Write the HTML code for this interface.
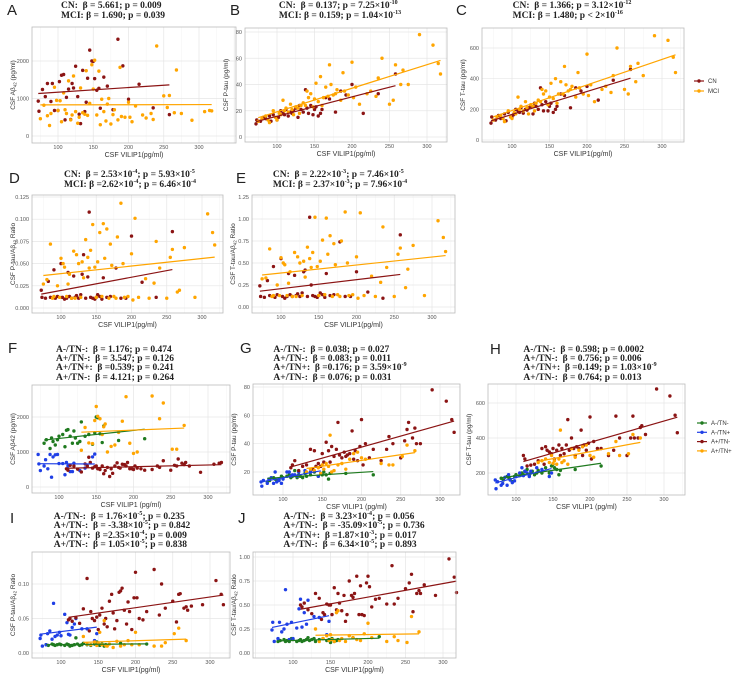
<!DOCTYPE html>
<html><head><meta charset="utf-8">
<style>
html,body{margin:0;padding:0;background:#fff;}
#root{position:relative;width:740px;height:676px;overflow:hidden;font-family:"Liberation Sans",sans-serif;}
.ttl{position:absolute;font-family:"Liberation Serif",serif;font-weight:bold;font-size:9.5px;line-height:9.5px;white-space:nowrap;transform:translateX(-50%);color:#222;}
.ttl sup{font-size:6px;line-height:0;}
.lbl{position:absolute;font-size:15px;color:#222;}
svg{position:absolute;left:0;top:0;}
</style></head><body>
<div id="root">
<svg id="svg" width="740" height="676"></svg>

<div class="lbl" style="left:7px;top:2px">A</div>
<div class="lbl" style="left:230px;top:2px">B</div>
<div class="lbl" style="left:456px;top:2px">C</div>
<div class="lbl" style="left:9px;top:170px">D</div>
<div class="lbl" style="left:236px;top:170px">E</div>
<div class="lbl" style="left:8px;top:340px">F</div>
<div class="lbl" style="left:240px;top:340px">G</div>
<div class="lbl" style="left:490px;top:341px">H</div>
<div class="lbl" style="left:10px;top:510px">I</div>
<div class="lbl" style="left:238px;top:510px">J</div>

<div class="ttl" style="left:113px;top:2px">CN:&nbsp; β = 5.661; p = 0.009<br>MCI: β = 1.690; p = 0.039</div>
<div class="ttl" style="left:340px;top:2px">CN:&nbsp; β = 0.137; p = 7.25×10<sup>-10</sup><br>MCI: β = 0.159; p = 1.04×10<sup>-13</sup></div>
<div class="ttl" style="left:572px;top:2px">CN:&nbsp; β = 1.366; p = 3.12×10<sup>-12</sup><br>MCI: β = 1.480; p &lt; 2×10<sup>-16</sup></div>
<div class="ttl" style="left:130px;top:171px">CN:&nbsp; β = 2.53×10<sup>-4</sup>; p = 5.93×10<sup>-5</sup><br>MCI: β =2.62×10<sup>-4</sup>; p = 6.46×10<sup>-4</sup></div>
<div class="ttl" style="left:340px;top:171px">CN:&nbsp; β = 2.22×10<sup>-3</sup>; p = 7.46×10<sup>-5</sup><br>MCI: β = 2.37×10<sup>-3</sup>; p = 7.96×10<sup>-4</sup></div>
<div class="ttl" style="left:115px;top:346px;line-height:9.2px">A-/TN-:&nbsp; β = 1.176; p = 0.474<br>A+/TN-:&nbsp; β = 3.547; p = 0.126<br>A+/TN+:&nbsp; β =0.539; p = 0.241<br>A+/TN-:&nbsp; β = 4.121; p = 0.264</div>
<div class="ttl" style="left:340px;top:346px;line-height:9.2px">A-/TN-:&nbsp; β = 0.038; p = 0.027<br>A+/TN-:&nbsp; β = 0.083; p = 0.011<br>A+/TN+:&nbsp; β =0.176; p = 3.59×10<sup>-9</sup><br>A+/TN-:&nbsp; β = 0.076; p = 0.031</div>
<div class="ttl" style="left:590px;top:346px;line-height:9.2px">A-/TN-:&nbsp; β = 0.598; p = 0.0002<br>A+/TN-:&nbsp; β = 0.756; p = 0.006<br>A+/TN+:&nbsp; β =0.149; p = 1.03×10<sup>-9</sup><br>A+/TN-:&nbsp; β = 0.764; p = 0.013</div>
<div class="ttl" style="left:122px;top:513px;line-height:9.3px">A-/TN-:&nbsp; β = 1.76×10<sup>-5</sup>; p = 0.235<br>A+/TN-:&nbsp; β = -3.38×10<sup>-5</sup>; p = 0.842<br>A+/TN+:&nbsp; β =2.35×10<sup>-4</sup>; p = 0.009<br>A+/TN-:&nbsp; β = 1.05×10<sup>-5</sup>; p = 0.838</div>
<div class="ttl" style="left:354px;top:513px;line-height:9.3px">A-/TN-:&nbsp; β = 3.23×10<sup>-4</sup>; p = 0.056<br>A+/TN-:&nbsp; β = -35.09×10<sup>-5</sup>; p = 0.736<br>A+/TN+:&nbsp; β =1.87×10<sup>-3</sup>; p = 0.017<br>A+/TN-:&nbsp; β = 6.34×10<sup>-5</sup>; p = 0.893</div>
</div>
<script>
// ---------- data ----------
const xCN=[72,73,78,82,85,90,92,95,100,102,105,108,110,112,115,118,120,122,125,128,130,132,135,138,140,142,145,148,150,152,155,158,160,165,170,178,185,192,200,215,235,258];
const xMCI=[75,80,85,88,90,95,98,100,103,105,108,110,112,115,118,120,122,125,128,130,132,135,138,140,142,145,148,150,152,155,158,160,162,165,168,170,172,175,178,180,185,188,190,195,200,202,205,210,220,225,232,235,240,250,255,258,265,268,275,290,308,315,318];
const aCN=[930,660,1240,1050,1400,920,1400,680,680,1450,1620,1640,430,1030,1250,440,1400,1280,1860,1050,580,330,1750,650,900,1540,2290,2000,1990,1530,1220,1270,740,1570,1330,700,2580,1870,980,1380,750,570];
const aMCI=[460,820,540,280,600,1300,950,680,940,380,1150,700,600,1470,430,560,1600,650,340,500,1280,620,580,1740,550,870,1900,1250,2020,560,1730,300,980,650,400,850,1000,320,570,700,430,1830,520,500,900,500,380,800,560,480,600,440,2400,1070,760,1080,620,1760,600,420,650,680,670];
const bCN=[10,13,12,15,14,16,12,17,13,15,20,18,17,21,16,19,18,20,22,15,24,21,19,36,22,18,24,17,21,23,16,18,21,30,29,19,35,32,40,18,33,48];
const bMCI=[12,14,16,13,11,20,15,13,18,17,28,20,22,19,25,21,17,23,22,18,24,26,24,35,30,33,23,29,41,27,46,24,30,38,31,55,40,32,33,36,28,49,35,32,57,30,38,25,33,35,31,45,60,25,28,55,40,51,40,78,70,56,48];
const cCN=[110,150,130,160,140,170,125,180,150,165,200,190,180,210,175,200,195,210,220,170,240,220,200,340,230,190,250,190,220,240,180,200,220,300,290,210,340,320,350,260,390,460];
const cMCI=[130,150,160,140,120,190,150,140,180,170,280,200,220,190,250,210,170,230,220,190,240,260,250,330,300,320,230,280,370,270,400,240,300,380,300,480,360,320,330,350,280,440,340,300,560,290,360,250,330,350,310,420,600,330,300,480,380,500,420,680,650,540,440];
const dCN=[.020,.012,.011,.030,.012,.043,.011,.013,.050,.012,.010,.011,.040,.013,.011,.036,.012,.014,.011,.015,.038,.060,.011,.035,.108,.012,.011,.010,.012,.015,.013,.010,.034,.012,.013,.045,.011,.011,.081,.029,.012,.086];
const dMCI=[.027,.032,.072,.011,.013,.025,.012,.056,.050,.046,.013,.027,.038,.011,.064,.011,.060,.050,.012,.052,.034,.077,.057,.045,.065,.094,.046,.012,.052,.085,.013,.095,.056,.089,.011,.072,.048,.013,.011,.080,.118,.050,.012,.013,.061,.009,.101,.012,.033,.011,.028,.075,.045,.011,.057,.066,.018,.020,.068,.012,.106,.085,.071];
const eCN=[.24,.12,.11,.30,.13,.46,.11,.14,.55,.12,.10,.12,.38,.14,.12,.36,.13,.15,.12,.16,.40,.42,.12,1.02,.25,.13,.12,.11,.13,.16,.14,.11,.38,.13,.14,.74,.12,.12,.40,.17,.10,.82];
const eMCI=[.32,.33,.66,.12,.13,.25,.13,.56,.50,.48,.13,.27,.40,.12,.62,.12,.57,.50,.13,.52,.34,.68,.55,.45,.62,1.02,.46,.13,.52,.76,.14,1.01,.60,.81,.12,.72,.48,.14,.12,.75,1.08,.50,.13,.14,.57,.10,1.07,.13,.35,.12,.28,.91,.45,.12,.60,.67,.22,.43,.70,.13,.98,.79,.63];
const xGrn=[80,83,88,90,92,95,98,100,105,108,110,112,115,118,120,122,125,128,130,135,140,145,148,150,152,155,158,160,180,215];
const xBlu=[72,73,75,80,82,85,88,90,92,95,98,100,105,108,110,112,115,118,120,128,135,145,148];
const xRed=[110,112,115,120,125,130,135,138,140,142,145,148,150,152,155,158,160,162,165,168,170,172,175,178,180,182,185,188,190,192,195,198,200,202,205,210,215,225,232,235,240,250,255,258,260,265,268,270,275,290,308,315,318];
const xOrg=[130,135,140,145,148,150,152,155,158,160,162,165,170,175,180,185,190,195,200,205,225,235,240,252,258,268];
const fGrn=[1250,1350,1100,1400,1300,1200,1350,1450,1500,1150,1620,1640,1450,1250,1600,1400,1250,1300,1860,1450,1500,1220,1550,2000,1980,1520,1270,1740,1330,1380];
const fBlu=[930,660,470,600,780,520,930,280,860,920,930,670,670,350,700,600,440,440,680,470,540,860,940];
const fRed=[520,480,620,600,510,430,660,600,850,700,540,580,600,520,500,600,380,470,560,300,520,390,600,690,560,540,650,640,600,700,520,520,500,600,540,520,480,500,600,560,750,480,620,600,800,680,640,700,600,420,650,680,700];
const fOrg=[1050,1700,1260,1240,1900,2300,2020,1950,1500,1720,1800,1000,1160,1200,1560,1880,2580,1250,960,1000,2600,1950,2400,1080,1080,1760];
const gGrn=[13,14,16,15,14,15,17,16,17,18,16,17,21,16,18,17,16,19,17,18,20,17,19,18,20,18,15,19,19,18];
const gBlu=[13,10,14,12,15,16,12,20,13,14,12,15,20,20,17,18,18,17,20,21,20,17,19];
const gRed=[23,25,28,21,24,25,36,22,35,24,26,24,33,27,41,35,27,38,31,36,55,32,30,34,31,32,33,49,29,35,28,38,57,25,40,30,36,28,36,45,40,30,42,50,55,44,51,40,40,78,70,57,48];
const gOrg=[20,22,21,23,19,25,22,26,24,46,20,21,25,26,22,29,33,34,30,29,26,25,25,31,39,35];
const hGrn=[170,160,180,175,165,150,180,190,185,200,190,210,220,185,200,210,190,200,215,200,230,200,240,250,230,220,190,215,220,240];
const hBlu=[160,110,150,130,140,175,130,190,160,145,155,180,200,230,185,210,200,180,210,230,220,180,200];
const hRed=[300,280,240,245,250,270,340,250,350,330,320,310,340,280,330,360,300,340,310,360,505,330,400,340,300,350,340,445,300,360,330,370,520,280,380,340,340,300,330,525,400,300,400,525,400,400,460,470,420,680,640,530,430];
const hOrg=[260,270,280,260,300,255,270,250,280,445,260,270,250,340,290,330,350,360,300,290,310,380,300,310,420,400];
const iGrn=[.012,.011,.013,.012,.011,.012,.013,.012,.011,.013,.012,.010,.011,.012,.022,.013,.011,.012,.014,.012,.011,.013,.016,.012,.011,.013,.010,.012,.014,.013];
const iBlu=[.021,.026,.010,.012,.028,.032,.020,.072,.024,.026,.030,.025,.056,.044,.027,.026,.037,.042,.050,.035,.035,.018,.028];
const iRed=[.048,.050,.046,.051,.043,.064,.108,.032,.060,.050,.047,.052,.034,.055,.065,.042,.050,.038,.075,.085,.058,.035,.047,.088,.090,.094,.062,.042,.074,.060,.034,.080,.117,.080,.050,.048,.060,.121,.055,.100,.065,.075,.045,.085,.086,.065,.067,.062,.068,.070,.105,.085,.070];
const iOrg=[.024,.013,.012,.016,.011,.014,.030,.012,.047,.011,.010,.013,.008,.017,.010,.012,.018,.012,.030,.012,.010,.010,.015,.028,.036,.018];
const jGrn=[.12,.13,.14,.12,.13,.12,.15,.14,.12,.13,.14,.12,.13,.14,.16,.13,.14,.15,.12,.14,.15,.13,.14,.11,.15,.12,.13,.14,.16,.17];
const jBlu=[.24,.32,.12,.15,.32,.22,.25,.66,.30,.14,.32,.15,.26,.46,.56,.27,.42,.30,.55,.38,.37,.19,.33];
const jRed=[.50,.48,.52,.45,.41,.62,.57,.35,.42,.40,.51,.50,.50,.40,.68,.45,.62,.52,.44,.60,.33,.40,.75,.60,.58,.62,.80,.40,.70,.40,.39,.73,.80,.69,.48,.56,.57,.51,.91,.51,.57,.67,.73,.82,.43,.62,.65,.62,.71,.60,.98,.79,.63];
const jOrg=[.25,.12,.15,.18,.13,.19,.14,.12,.42,.44,.13,.15,.12,.18,.16,.14,.13,.20,.31,.16,.12,.17,.13,.11,.38,.22];
const xTicks=[100,150,200,250,300];
const ticksAB=[0,1000,2000], ticksPT=[0,20,40,60,80], ticksTT=[0,200,400,600];
const ticksD=[0,.025,.05,.075,.1,.125], tickLabD=["0.000","0.025","0.050","0.075","0.100","0.125"];
const ticksE=[0,.25,.5,.75,1,1.25], tickLabE=["0.00","0.25","0.50","0.75","1.00","1.25"];
const ticksG=[20,40,60,80], ticksH=[200,400,600];
const ticksI=[0,.05,.1], tickLabI=["0.00","0.05","0.10"];
const ticksJ=[0,.25,.5,.75,1], tickLabJ=["0.00","0.25","0.50","0.75","1.00"];
const legend1=["CN","MCI"], legend2=["A-/TN-","A-/TN+","A+/TN-","A+/TN+"];

// ---------- drawing ----------
const NS="http://www.w3.org/2000/svg";
const svg=document.getElementById('svg');
const RED="#8b1414",ORG="#ffa500",GRN="#1f7a1f",BLU="#1f3fe6";
function mk(tag,at,parent){const e=document.createElementNS(NS,tag);for(const k in at)e.setAttribute(k,at[k]);(parent||svg).appendChild(e);return e;}
function panel(id,box,xa,ya,yt,ytl,ylab,xlab,series){
  const [L,T,R,B]=box;
  const g=mk('g',{});
  
  
  const kx=(xa[1]-xa[0])/200; const X=v=>xa[0]+(v-100)*kx;
  const ky=(ya[3]-ya[1])/(ya[2]-ya[0]); const Y=v=>ya[1]+(v-ya[0])*ky;
  mk('rect',{x:L,y:T,width:R-L,height:B-T,fill:'#fff'},g);
  for(let v=50;v<=350;v+=25){const px=X(v);if(px>L&&px<R){const ln=mk('line',{x1:px,x2:px,y1:T,y2:B,stroke:v%50?'#f3f3f3':'#e6e6e6','stroke-width':v%50?0.5:0.7},g);}}
  for(let i=0;i<yt.length;i++){const py=Y(yt[i]);if(py>T&&py<B){const ln=mk('line',{x1:L,x2:R,y1:py,y2:py,stroke:'#e6e6e6','stroke-width':0.7},g);}
    const t=mk('text',{x:L-3,y:py+2,'font-size':5.5,'text-anchor':'end',fill:'#555'},g);t.textContent=ytl?ytl[i]:yt[i];
    
    }
  for(const v of xTicks){const t=mk('text',{x:X(v),y:B+6,'font-size':5.5,'text-anchor':'middle',fill:'#555'},g);t.textContent=v;
    
    }
  const xl=mk('text',{x:(L+R)/2,y:B+14,'font-size':7,'text-anchor':'middle',fill:'#333'},g);xl.textContent=xlab;
  
  
  const yl=mk('text',{x:0,y:0,'font-size':6.5,'text-anchor':'middle',fill:'#333',transform:`translate(${L-17},${(T+B)/2}) rotate(-90)`},g);yl.innerHTML=ylab;
  
  
  for(const s of series){
    const [xs,ys,col,nm]=s;
    for(let i=0;i<xs.length;i++){const c=mk('circle',{cx:X(xs[i]),cy:Y(ys[i]),r:1.7,fill:col},g);
      
      }
  }
  for(const s of series){
    const [xs,ys,col,nm]=s;const n=xs.length;let mx=0,my=0;for(let i=0;i<n;i++){mx+=xs[i];my+=ys[i];}mx/=n;my/=n;
    let sxy=0,sxx=0;for(let i=0;i<n;i++){sxy+=(xs[i]-mx)*(ys[i]-my);sxx+=(xs[i]-mx)**2;}
    const b=sxy/sxx,a=my-b*mx;const x0=Math.min(...xs),x1=Math.max(...xs);
    const ln=mk('line',{x1:X(x0),y1:Y(a+b*x0),x2:X(x1),y2:Y(a+b*x1),stroke:col,'stroke-width':1.2},g);
    
    
  }
  mk('rect',{x:L,y:T,width:R-L,height:B-T,fill:'none',stroke:'#bbb','stroke-width':0.8},g);
}
const AB='CSF Aβ<tspan font-size="4.5" dy="1.5">42</tspan><tspan dy="-1.5"> (pg/ml)</tspan>';
const XL='CSF VILIP1(pg/ml)', XL2='CSF VILIP1 (pg/ml)';
panel('a',[32,27,236,143],[58,199],[0,136,2000,61],ticksAB,null,AB,XL,[[xCN,aCN,RED,'cn'],[xMCI,aMCI,ORG,'mci']]);
panel('b',[245,28,447,142],[277,427],[0,137,80,32],ticksPT,null,'CSF P-tau (pg/ml)',XL,[[xCN,bCN,RED,'cn'],[xMCI,bMCI,ORG,'mci']]);
panel('c',[482,28,684,142],[512,662],[0,140,600,48],ticksTT,null,'CSF T-tau (pg/ml)',XL,[[xCN,cCN,RED,'cn'],[xMCI,cMCI,ORG,'mci']]);
panel('d',[32,195,223,313],[61,202],[0,308,.125,197],ticksD,tickLabD,'CSF P-tau/Aβ<tspan font-size="4.5" dy="1.5">42</tspan><tspan dy="-1.5"> Ratio</tspan>',XL,[[xCN,dCN,RED,'cn'],[xMCI,dMCI,ORG,'mci']]);
panel('e',[252,195,455,313],[281,432],[0,307,1.25,197],ticksE,tickLabE,'CSF T-tau/Aβ<tspan font-size="4.5" dy="1.5">42</tspan><tspan dy="-1.5"> Ratio</tspan>',XL,[[xCN,eCN,RED,'cn'],[xMCI,eMCI,ORG,'mci']]);
const G4=(g,b,r,o)=>[[xGrn,g,GRN,'a-tn-'],[xBlu,b,BLU,'a-tn+'],[xRed,r,RED,'a+tn-'],[xOrg,o,ORG,'a+tn+']];
panel('f',[32,385,230,493],[59,208],[0,487,2000,417],ticksAB,null,'CSF Aβ42 (pg/ml)',XL2,G4(fGrn,fBlu,fRed,fOrg));
panel('g',[253,384,460,495],[283,440],[20,472,80,387],ticksG,null,'CSF P-tau (pg/ml)',XL2,G4(gGrn,gBlu,gRed,gOrg));
panel('h',[488,384,685,495],[516,664],[200,473,600,403],ticksH,null,'CSF T-tau (pg/ml)',XL2,G4(hGrn,hBlu,hRed,hOrg));
panel('i',[32,552,230,658],[61,210],[0,653,.1,584],ticksI,tickLabI,'CSF P-tau/Aβ<tspan font-size="4.5" dy="1.5">42</tspan><tspan dy="-1.5"> Ratio</tspan>',XL,G4(iGrn,iBlu,iRed,iOrg));
panel('j',[253,552,456,658],[293,443],[0,653,1,557],ticksJ,tickLabJ,'CSF T-tau/Aβ<tspan font-size="4.5" dy="1.5">42</tspan><tspan dy="-1.5"> Ratio</tspan>',XL,G4(jGrn,jBlu,jRed,jOrg));

function legend(x,y0,dy,labels,cols,nm){
  labels.forEach((l,i)=>{const y=y0+i*dy;
    const ln=mk('line',{x1:x,x2:x+10,y1:y,y2:y,stroke:cols[i],'stroke-width':1.2});
    
    
    mk('circle',{cx:x+5,cy:y,r:1.7,fill:cols[i]});
    const t=mk('text',{x:x+14,y:y+2,'font-size':6,fill:'#333'});t.textContent=l;
    
    });
}
legend(694,81,10,legend1,[RED,ORG],'dx');
legend(697,423,9.3,legend2,[GRN,BLU,RED,ORG],'at');
</script>
</body></html>
